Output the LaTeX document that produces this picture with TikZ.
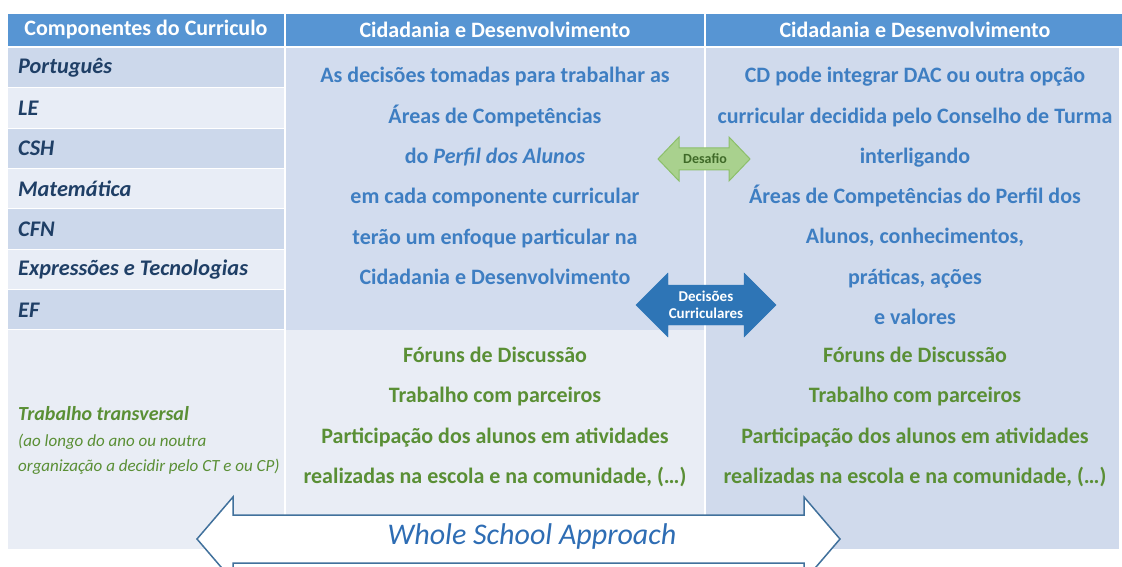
\documentclass[tikz,border=0pt]{standalone}
\usepackage{fontspec}
\setmainfont{Carlito}
\usetikzlibrary{positioning}
\definecolor{hdrblue}{HTML}{5795D3}
\definecolor{darkrow}{HTML}{CCD8EB}
\definecolor{lightrow}{HTML}{E8EDF6}
\definecolor{midcell}{HTML}{D2DCEE}
\definecolor{palecell}{HTML}{E9EDF5}
\definecolor{rightcell}{HTML}{D0DAEC}
\definecolor{cdblue}{HTML}{3E7EC2}
\definecolor{navytext}{HTML}{1F3F66}
\definecolor{leafgreen}{HTML}{5A8F35}
\definecolor{desafiofill}{HTML}{A9D18E}
\definecolor{desafioline}{HTML}{8CBF6A}
\definecolor{desafiotext}{HTML}{3F6A28}
\definecolor{decfill}{HTML}{2E75B6}
\definecolor{wsaline}{HTML}{41719C}
\definecolor{wsatext}{HTML}{2E6DB4}
% double arrow: style, left tip, right tip, y, head length, head half height, shaft half height
\newcommand\dblarrow[7]{
  \draw[#1] (#2,#4) -- ({#2+#5},{#4-#6}) -- ({#2+#5},{#4-#7}) -- ({#3-#5},{#4-#7})
    -- ({#3-#5},{#4-#6}) -- (#3,#4) -- ({#3-#5},{#4+#6}) -- ({#3-#5},{#4+#7})
    -- ({#2+#5},{#4+#7}) -- ({#2+#5},{#4+#6}) -- cycle;
}

\begin{document}
\begin{tikzpicture}[x=1pt, y=-1pt,
  hdr/.style={text=white, font=\bfseries\fontsize{22}{24}\selectfont},
  comp/.style={anchor=west, inner sep=0, text=navytext, font=\bfseries\itshape\fontsize{22.3}{24}\selectfont},
  bodytext/.style={align=center, text=cdblue, font=\bfseries\fontsize{22}{40.3}\selectfont},
  greentext/.style={align=center, text=leafgreen, font=\bfseries\fontsize{22}{40.3}\selectfont}]
	\useasboundingbox (0,0) rectangle (1122,567);
	\clip (0,0) rectangle (1122,567);
	\fill[white] (0,0) rectangle (1122,567);
	% table
	\fill[hdrblue] (8,14) rectangle (1122,46);
	\draw[white, line width=1.2] (285,14)--(285,46);
	\draw[white, line width=1.2] (705,14)--(705,46);
	\foreach \name/\col [count=\i from 0] in {Português/darkrow, LE/lightrow, CSH/darkrow, Matemática/lightrow, CFN/darkrow, Expressões e Tecnologias/lightrow, EF/darkrow}{
		\fill[\col] (8,{48+40.3*\i}) rectangle (284,{87.3+40.3*\i});
		\node[comp] (comp\i) at (18,{68+40.3*\i}) {\name};
	}
	\fill[palecell] (8,330) rectangle (284,549);
	\fill[midcell] (286,48) rectangle (704,330);
	\fill[palecell] (286,330) rectangle (704,549);
	\fill[rightcell] (706,48) rectangle (1119,549);
	% headers
	\node[hdr] (hcomp) at (146,30) {Componentes do Curriculo};
	\node[hdr] (hcd) at (495,30) {Cidadania e Desenvolvimento};
	\node[hdr] (hcdb) at (915,30) {Cidadania e Desenvolvimento};
	% body
	\node[bodytext] (decisoes) at (495,176) {As decisões tomadas para trabalhar as\\Áreas de Competências\\do \textit{Perfil dos Alunos}\\em cada componente curricular\\terão um enfoque particular na\\Cidadania e Desenvolvimento};
	\node[bodytext] (integrar) at (915,196) {CD pode integrar DAC ou outra opção\\curricular decidida pelo Conselho de Turma\\interligando\\Áreas de Competências do Perfil dos\\Alunos, conhecimentos,\\práticas, ações\\e valores};
	\node[greentext] (forunsa) at (495,417) {Fóruns de Discussão\\Trabalho com parceiros\\Participação dos alunos em atividades\\realizadas na escola e na comunidade, (…)};
	\node[greentext] (forunsb) at (915,417) {Fóruns de Discussão\\Trabalho com parceiros\\Participação dos alunos em atividades\\realizadas na escola e na comunidade, (…)};
	\node[anchor=west, inner sep=0, text=leafgreen, font=\bfseries\itshape\fontsize{20}{22}\selectfont] (transv) at (18,414) {Trabalho transversal};
	\node[anchor=west, inner sep=0, text=leafgreen, font=\itshape\fontsize{17}{18}\selectfont] (transva) at (18,442) {(ao longo do ano ou noutra};
	\node[anchor=west, inner sep=0, text=leafgreen, font=\itshape\fontsize{17}{18}\selectfont] (transvb) at (18,467) {organização a decidir pelo CT e ou CP)};
	% arrows
	\dblarrow{fill=desafiofill, draw=desafioline, line width=1}{658}{750}{159}{21}{22}{11}
	\node[text=desafiotext, font=\bfseries\fontsize{14}{16}\selectfont] (desafio) at (705,159) {Desafio};
	\dblarrow{fill=decfill, draw=decfill}{636}{776}{305}{32}{32}{20}
	\node[align=center, text=white, font=\bfseries\fontsize{15}{17}\selectfont] (curric) at (706,305) {Decisões\\Curriculares};
	\dblarrow{fill=white, draw=wsaline, line width=1.5}{197}{840}{539}{36}{42}{24}
	\node[text=wsatext, font=\itshape\fontsize{30}{32}\selectfont] (wsa) at (532,536) {Whole School Approach};
\end{tikzpicture}
\end{document}
